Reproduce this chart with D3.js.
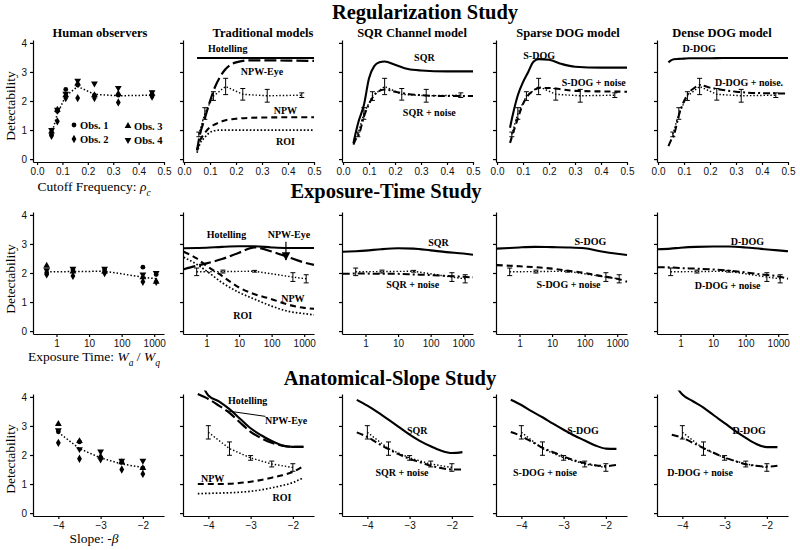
<!DOCTYPE html>
<html><head><meta charset="utf-8">
<script src="https://cdn.jsdelivr.net/npm/d3@7"></script>
<style>body{margin:0;background:#fff}</style>
</head><body><svg id="c" width="800" height="550"></svg>
<script>
// ---------------- DATA ----------------
const rowTitles = ["Regularization Study", "Exposure-Time Study", "Anatomical-Slope Study"];
const panelTitles = ["Human observers", "Traditional models", "SQR Channel model", "Sparse DOG model", "Dense DOG model"];
const yTicks = [0, 1, 2, 3, 4];

// Row 1: regularization (cutoff frequency)
const cutoffTicks = [0.0, 0.1, 0.2, 0.3, 0.4, 0.5];
const cutoffFreq = [0.057, 0.08, 0.113, 0.16, 0.226, 0.32, 0.453];
const regObs1 = [0.85, 1.65, 2.4, 2.55, 2.2, 2.2, 2.2];
const regObs2 = [0.8, 1.3, 2.1, 2.1, 2.1, 1.95, 2.15];
const regObs3 = [0.95, 1.7, 2.2, 2.6, 2.2, 2.25, 2.25];
const regObs4 = [1.0, 1.7, 2.25, 2.7, 2.6, 2.45, 2.3];
const regMean = [0.85, 1.57, 2.17, 2.5, 2.23, 2.18, 2.2];
const regErr = [0.08, 0.2, 0.15, 0.28, 0.2, 0.22, 0.08];
const regGrid = [0.04, 0.05, 0.06, 0.08, 0.1, 0.12, 0.14, 0.16, 0.2, 0.25, 0.3, 0.4, 0.5];
const regHotelling = [null, 3.48, 3.48, 3.48, 3.48, 3.48, 3.48, 3.48, 3.48, 3.48, 3.48, 3.48, 3.48];
const regNPWEye = [null, 0.3, 0.8, 1.4, 2.0, 2.5, 2.85, 3.1, 3.33, 3.4, 3.4, 3.39, 3.38];
const regNPW = [null, 0.3, 0.6, 0.9, 1.1, 1.2, 1.28, 1.34, 1.39, 1.42, 1.43, 1.44, 1.44];
const regROI = [null, 0.22, 0.5, 0.75, 0.92, 0.98, 1.0, 1.0, 1.0, 1.0, 1.0, 1.0, 1.0];
const regSQR = [0.55, 0.95, 1.3, 1.85, 2.78, 3.2, 3.33, 3.36, 3.25, 3.1, 3.05, 3.02, 3.02];
const regSQRNoise = [0.5, 0.7, 0.82, 1.45, 1.9, 2.2, 2.35, 2.4, 2.32, 2.24, 2.2, 2.17, 2.17];
const regSDOG = [null, 1.08, 1.5, 2.2, 2.65, 3.0, 3.35, 3.44, 3.42, 3.27, 3.18, 3.15, 3.15];
const regSDOGNoise = [null, 0.56, 0.85, 1.4, 1.9, 2.2, 2.35, 2.45, 2.45, 2.4, 2.35, 2.33, 2.32];
const regDDOG = [3.33, 3.4, 3.44, 3.45, 3.46, 3.47, 3.47, 3.47, 3.47, 3.48, 3.48, 3.48, 3.48];
const regDDOGNoise = [0.45, 0.65, 0.8, 1.5, 2.0, 2.3, 2.45, 2.55, 2.46, 2.38, 2.32, 2.27, 2.26];

// Row 2: exposure time
const exposureTicks = [1, 10, 100, 1000];
const exposure = [0.5, 3.2, 30, 450, 1150];
const expObs1 = [2.0, 2.1, 2.1, 2.2, 1.95];
const expObs2 = [1.95, 1.9, 2.0, 1.7, 1.7];
const expObs3 = [2.25, 2.05, 2.05, 1.85, 1.7];
const expObs4 = [2.1, 2.15, 2.15, 1.95, 2.0];
const expMean = [2.04, 2.05, 2.06, 1.86, 1.8];
const expErr = [0.13, 0.05, 0.03, 0.15, 0.14];
const expGrid = [0.2, 0.5, 1, 3, 10, 30, 100, 300, 1000, 2000];
const expHotelling = [2.85, 2.86, 2.87, 2.9, 2.92, 2.92, 2.88, 2.86, 2.86, 2.86];
const expNPWEye = [2.13, 2.25, 2.33, 2.48, 2.7, 2.88, 2.74, 2.56, 2.36, 2.28];
const expNPW = [2.73, 2.5, 2.25, 1.9, 1.5, 1.27, 1.1, 0.92, 0.8, 0.77];
const expROI = [2.54, 2.3, 2.07, 1.67, 1.33, 1.1, 0.86, 0.69, 0.6, 0.56];
const expSQR = [2.73, 2.75, 2.77, 2.82, 2.85, 2.84, 2.78, 2.72, 2.67, 2.63];
const expSQRNoise = [1.97, 1.98, 1.98, 1.97, 1.97, 1.95, 1.93, 1.9, 1.87, 1.85];
const expSDOG = [2.84, 2.86, 2.88, 2.9, 2.89, 2.88, 2.85, 2.75, 2.66, 2.62];
const expSDOGNoise = [2.27, 2.25, 2.23, 2.2, 2.15, 2.08, 2.0, 1.9, 1.8, 1.7];
const expDDOG = [2.82, 2.84, 2.87, 2.9, 2.91, 2.91, 2.88, 2.83, 2.78, 2.75];
const expDDOGNoise = [2.2, 2.19, 2.17, 2.15, 2.12, 2.08, 2.02, 1.95, 1.88, 1.8];

// Row 3: anatomical slope
const slopeTicks = [-4, -3, -2];
const slope = [-4, -3.5, -3, -2.5, -2];
const slpObs1 = [2.8, 2.45, 1.9, 1.75, 1.55];
const slpObs2 = [2.42, 1.87, 1.85, 1.5, 1.35];
const slpObs3 = [3.07, 2.48, 1.95, 1.75, 1.55];
const slpObs4 = [2.85, 2.2, 2.12, 1.8, 1.8];
const slpMean = [2.78, 2.22, 1.9, 1.69, 1.57];
const slpErr = [0.23, 0.23, 0.08, 0.1, 0.13];
const slpGrid = [-4.25, -4, -3.75, -3.5, -3.25, -3, -2.75, -2.5, -2.25, -2, -1.75];
const slpHotelling = [4.75, 4.05, 3.85, 3.58, 3.25, 2.92, 2.68, 2.48, 2.33, 2.28, 2.28];
const slpNPWEye = [4.1, 3.93, 3.7, 3.45, 3.12, 2.8, 2.58, 2.42, 2.32, 2.28, 2.28];
const slpNPW = [1.0, 1.0, 1.0, 1.01, 1.04, 1.08, 1.14, 1.22, 1.3, 1.42, 1.62];
const slpROI = [0.67, 0.68, 0.69, 0.7, 0.72, 0.75, 0.8, 0.87, 0.95, 1.05, 1.22];
const slpSQR = [3.9, 3.7, 3.47, 3.22, 2.96, 2.7, 2.48, 2.3, 2.15, 2.07, 2.1];
const slpSQRNoise = [2.78, 2.62, 2.4, 2.2, 2.02, 1.87, 1.75, 1.63, 1.55, 1.5, 1.5];
const slpSDOG = [3.9, 3.72, 3.5, 3.3, 3.08, 2.87, 2.67, 2.5, 2.33, 2.22, 2.21];
const slpSDOGNoise = [2.79, 2.65, 2.45, 2.25, 2.1, 1.95, 1.82, 1.72, 1.65, 1.62, 1.66];
const slpDDOG = [4.6, 4.08, 3.85, 3.63, 3.36, 3.1, 2.83, 2.59, 2.38, 2.27, 2.27];
const slpDDOGNoise = [2.7, 2.59, 2.42, 2.24, 2.07, 1.91, 1.79, 1.68, 1.63, 1.6, 1.63];

const obsNames = ["Obs. 1", "Obs. 2", "Obs. 3", "Obs. 4"];

// ---------------- LAYOUT / STYLE ----------------
const frameL = [33, 183, 342, 496, 657], frameW = 131;
const rowsY = [[162, 40], [334, 212], [516, 394]];
const styles = {
  solid: {w: 2.1, dash: null},
  longdash: {w: 2.2, dash: "12,4"},
  dash: {w: 2.1, dash: "6,4"},
  dot: {w: 1.7, dash: "1.6,2"},
  dashdot: {w: 2.0, dash: "7,3,2,3"}
};
const serif = "'Liberation Serif','Times New Roman',serif";
const sans = "'Liberation Sans',Arial,sans-serif";
const obsSymbols = [
  {t: d3.symbolCircle, r: 0}, {t: d3.symbolDiamond, r: 0},
  {t: d3.symbolTriangle, r: 0}, {t: d3.symbolTriangle, r: 180}
];

const rows = [
  {grid: regGrid, xs: cutoffFreq, obs: [regObs1, regObs2, regObs3, regObs4], mean: regMean, err: regErr,
   ticks: cutoffTicks, fmt: d3.format(".1f"),
   panels: [null,
     {models: [[regHotelling, "solid"], [regNPWEye, "longdash"], [regNPW, "dash"], [regROI, "dot"]],
      labels: [["Hotelling", 0.168, 3.69], ["NPW-Eye", 0.3, 2.88], ["NPW", 0.39, 1.55], ["ROI", 0.39, 0.48]]},
     {models: [[regSQR, "solid"], [regSQRNoise, "dashdot"]],
      labels: [["SQR", 0.313, 3.36], ["SQR + noise", 0.332, 1.47]]},
     {models: [[regSDOG, "solid"], [regSDOGNoise, "dash"]],
      labels: [["S-DOG", 0.162, 3.45], ["S-DOG + noise", 0.372, 2.5]]},
     {models: [[regDDOG, "solid"], [regDDOGNoise, "dashdot"]],
      labels: [["D-DOG", 0.158, 3.67], ["D-DOG + noise.", 0.35, 2.53]]}
   ]},
  {grid: expGrid, xs: exposure, obs: [expObs1, expObs2, expObs3, expObs4], mean: expMean, err: expErr,
   ticks: exposureTicks, fmt: d3.format("d"),
   panels: [null,
     {models: [[expHotelling, "solid"], [expNPWEye, "longdash"], [expNPW, "dash"], [expROI, "dot"]],
      labels: [["Hotelling", 4.1, 3.22], ["NPW-Eye", 340, 3.22], ["NPW", 450, 0.99], ["ROI", 13, 0.4]]},
     {models: [[expSQR, "solid"], [expSQRNoise, "dashdot"]],
      labels: [["SQR", 174, 2.94], ["SQR + noise", 28, 1.48]]},
     {models: [[expSDOG, "solid"], [expSDOGNoise, "dash"]],
      labels: [["S-DOG", 150, 2.98], ["S-DOG + noise", 32, 1.48]]},
     {models: [[expDDOG, "solid"], [expDDOGNoise, "dashdot"]],
      labels: [["D-DOG", 114, 2.98], ["D-DOG + noise", 28, 1.46]]}
   ]},
  {grid: slpGrid, xs: slope, obs: [slpObs1, slpObs2, slpObs3, slpObs4], mean: slpMean, err: slpErr,
   ticks: slopeTicks, fmt: d3.format("d"),
   panels: [null,
     {models: [[slpHotelling, "solid"], [slpNPWEye, "longdash"], [slpNPW, "dash"], [slpROI, "dot"]],
      labels: [["Hotelling", -3.07, 3.76], ["NPW-Eye", -2.16, 3.06], ["NPW", -3.9, 1.06], ["ROI", -2.26, 0.43]]},
     {models: [[slpSQR, "solid"], [slpSQRNoise, "dashdot"]],
      labels: [["SQR", -2.82, 2.71], ["SQR + noise", -3.18, 1.27]]},
     {models: [[slpSDOG, "solid"], [slpSDOGNoise, "dashdot"]],
      labels: [["S-DOG", -2.54, 2.71], ["S-DOG + noise", -3.44, 1.27]]},
     {models: [[slpDDOG, "solid"], [slpDDOGNoise, "dashdot"]],
      labels: [["D-DOG", -2.42, 2.71], ["D-DOG + noise", -3.58, 1.29]]}
   ]}
];

function makeX(row, p) {
  const r = [frameL[p], frameL[p] + frameW];
  if (row === 0) return d3.scaleLinear().domain([p === 0 ? -0.016 : -0.004, 0.5]).range(r);
  if (row === 1) return d3.scaleLog().domain([0.19, 2000]).range(r);
  return d3.scaleLinear().domain([-4.6, -1.5]).range(r);
}

const svg = d3.select("#c");
const defs = svg.append("defs");
defs.append("marker").attr("id", "arr").attr("viewBox", "0 0 10 10").attr("refX", 9).attr("refY", 5)
  .attr("markerWidth", 7).attr("markerHeight", 7).attr("orient", "auto")
  .append("path").attr("d", "M0,0L10,5L0,10Z").attr("fill", "#000");

// Row titles
const rowTitlePos = [[425, 19], [386, 198], [390, 385]];
rowTitles.forEach((t, i) => {
  svg.append("text").attr("x", rowTitlePos[i][0]).attr("y", rowTitlePos[i][1])
    .attr("text-anchor", "middle").attr("font-family", serif).attr("font-weight", "bold")
    .attr("font-size", 20.5).text(t);
});
// Panel titles
const ptCenters = [100, 263, 412, 568, 722];
panelTitles.forEach((t, i) => {
  svg.append("text").attr("x", ptCenters[i]).attr("y", 37).attr("text-anchor", "middle")
    .attr("font-family", serif).attr("font-weight", "bold").attr("font-size", 12.5).text(t);
});

rows.forEach((R, ri) => {
  const y = d3.scaleLinear().domain([-0.1, 4.1]).range(rowsY[ri]);
  svg.append("text").attr("transform", `translate(15,${[106, 279, 459][ri]}) rotate(-90)`)
    .attr("text-anchor", "middle").attr("font-family", serif).attr("font-size", 13.5).text("Detectability");
  for (let p = 0; p < 5; p++) {
    const x = makeX(ri, p);
    const g = svg.append("g");
    const clipId = `clip${ri}${p}`;
    defs.append("clipPath").attr("id", clipId).append("rect")
      .attr("x", frameL[p]).attr("y", y(4.22)).attr("width", frameW + 2).attr("height", y(-0.1) - y(4.22));
    const xa = d3.axisBottom(x).tickValues(R.ticks).tickFormat(R.fmt).tickSize(3).tickSizeOuter(0).tickPadding(3);
    const gx = g.append("g").attr("transform", `translate(0,${y(-0.1)})`).call(xa);
    const ya = d3.axisLeft(y).tickValues(yTicks).tickSize(3).tickSizeOuter(0).tickPadding(3)
      .tickFormat(p === 0 ? d3.format("d") : () => "");
    const gy = g.append("g").attr("transform", `translate(${frameL[p]},0)`).call(ya);
    [gx, gy].forEach(a => {
      a.selectAll("text").attr("font-family", sans).attr("font-size", 10).attr("fill", "#111");
      a.select(".domain").attr("stroke-width", 1.2);
      a.selectAll(".tick line").attr("stroke-width", 1.2);
    });
    const meanLine = d3.line().x((d, i) => x(R.xs[i])).y(d => y(d));
    if (p === 0) {
      g.append("path").datum(R.mean).attr("d", meanLine).attr("fill", "none").attr("stroke", "#000")
        .attr("stroke-width", 1.5).attr("stroke-dasharray", "1.5,2");
      R.obs.forEach((o, oi) => {
        const sym = d3.symbol().type(obsSymbols[oi].t).size(obsSymbols[oi].t === d3.symbolCircle ? 18 : 20);
        g.selectAll(null).data(o).enter().append("path").attr("d", sym)
          .attr("transform", (d, i) => `translate(${x(R.xs[i])},${y(d)}) rotate(${obsSymbols[oi].r})`)
          .attr("fill", "#000");
      });
      continue;
    }
    const P = R.panels[p];
    const cg = g.append("g").attr("clip-path", `url(#${clipId})`);
    P.models.forEach(([vals, st]) => {
      const s = styles[st];
      const ln = d3.line().defined(d => d != null).x((d, i) => x(R.grid[i])).y(d => y(d)).curve(d3.curveMonotoneX);
      cg.append("path").datum(vals).attr("d", ln).attr("fill", "none").attr("stroke", "#000")
        .attr("stroke-width", s.w).attr("stroke-dasharray", s.dash);
    });
    cg.append("path").datum(R.mean).attr("d", meanLine).attr("fill", "none").attr("stroke", "#000")
      .attr("stroke-width", 1.4).attr("stroke-dasharray", "1.4,2");
    R.mean.forEach((m, i) => {
      const cx = x(R.xs[i]), y1 = y(m - R.err[i]), y2 = y(m + R.err[i]);
      g.append("line").attr("x1", cx).attr("x2", cx).attr("y1", y1).attr("y2", y2).attr("stroke", "#000").attr("stroke-width", 1);
      [y1, y2].forEach(yy => g.append("line").attr("x1", cx - 2.5).attr("x2", cx + 2.5).attr("y1", yy).attr("y2", yy)
        .attr("stroke", "#000").attr("stroke-width", 1));
    });
    P.labels.forEach(([t, lx, ly]) => {
      g.append("text").attr("x", x(lx)).attr("y", y(ly)).attr("text-anchor", "middle")
        .attr("font-family", serif).attr("font-weight", "bold").attr("font-size", 10).text(t);
    });
    if (p === 1 && ri === 1) {
      g.append("line").attr("x1", x(275)).attr("x2", x(275)).attr("y1", y(3.08)).attr("y2", y(2.45))
        .attr("stroke", "#000").attr("stroke-width", 1.2).attr("marker-end", "url(#arr)");
    }
    if (p === 1 && ri === 2) {
      g.append("line").attr("x1", x(-3.56)).attr("x2", x(-2.65)).attr("y1", y(3.52)).attr("y2", y(3.33))
        .attr("stroke", "#000").attr("stroke-width", 1);
    }
  }
});

// Legend (row 1, panel 1)
const legPos = [[74, 125], [74, 139], [128, 126], [128, 140]];
obsNames.forEach((n, i) => {
  const sym = d3.symbol().type(obsSymbols[i].t).size(obsSymbols[i].t === d3.symbolCircle ? 18 : 20);
  svg.append("path").attr("d", sym).attr("transform", `translate(${legPos[i][0]},${legPos[i][1]}) rotate(${obsSymbols[i].r})`);
  svg.append("text").attr("x", legPos[i][0] + 6).attr("y", legPos[i][1] + 3.5).attr("font-family", serif)
    .attr("font-weight", "bold").attr("font-size", 10.5).text(n);
});

// X axis titles (first column)
function xTitle(yb, parts) {
  const t = svg.append("text").attr("x", 94).attr("y", yb).attr("text-anchor", "middle")
    .attr("font-family", serif).attr("font-size", 13.5);
  parts.forEach(([s, it, sub]) => {
    const ts = t.append("tspan").text(s);
    if (it) ts.attr("font-style", "italic");
    if (sub) ts.attr("font-size", 9.5).attr("baseline-shift", "sub");
  });
}
xTitle(191, [["Cutoff Frequency: ", 0, 0], ["ρ", 1, 0], ["c", 1, 1]]);
xTitle(361, [["Exposure Time: ", 0, 0], ["W", 1, 0], ["a", 1, 1], [" / ", 0, 0], ["W", 1, 0], ["q", 1, 1]]);
xTitle(543, [["Slope: -", 0, 0], ["β", 1, 0]]);
</script></body></html>
